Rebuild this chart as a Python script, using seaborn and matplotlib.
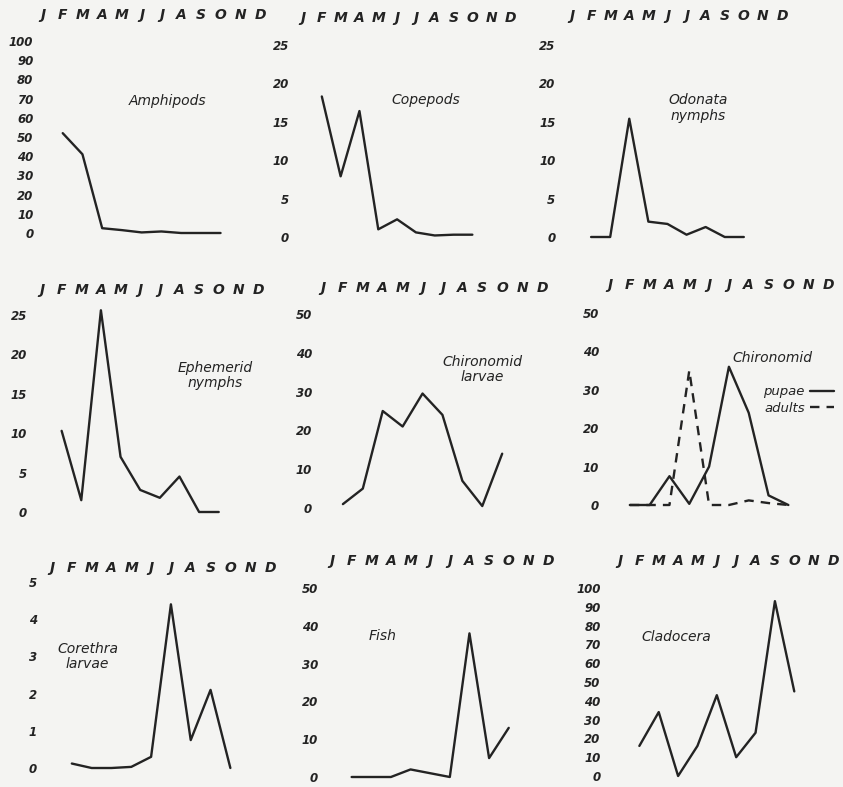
import numpy as np
import pandas as pd
import matplotlib
matplotlib.use('Agg')
import matplotlib.pyplot as plt
import seaborn as sns

sns.set_style('white')
plt.rcParams['font.family'] = ['DejaVu Sans']

# month letters along the top of every panel
months = ['J', 'F', 'M', 'A', 'M', 'J', 'J', 'A', 'S', 'O', 'N', 'D']
# samples were taken February .. October (month numbers)
sample_months = [2, 3, 4, 5, 6, 7, 8, 9, 10]

amphipods = [52, 41, 2.5, 1.5, 0.3, 0.8, 0, 0, 0]
copepods = [18.3, 7.9, 16.4, 1.0, 2.3, 0.6, 0.2, 0.3, 0.3]
odonata = [0, 0, 15.4, 2.0, 1.7, 0.3, 1.3, 0, 0]
ephemerid = [10.3, 1.5, 25.6, 7.0, 2.8, 1.8, 4.5, 0, 0]
chiro_larvae = [1, 5, 25, 21, 29.5, 24, 7, 0.5, 14]
chiro_pupae = [0, 0, 7.5, 0.3, 10, 36, 24, 2.5, 0]
chiro_adults = [0, 0, 0, 35, 0, 0, 1.2, 0.5, 0]
corethra = [0.12, 0, 0, 0.03, 0.3, 4.4, 0.75, 2.1, 0]
fish = [0, 0, 0, 2, 1, 0, 38, 5, 13]
cladocera = [16, 34, 0, 16, 43, 10, 23, 93, 45]

ink = '#232323'
bg = '#f4f4f2'

# panel layout in pixels: left (J), right (D), y of zero, y of top tick
panels = [
    dict(series=[('', amphipods, '-')], box=(43, 260, 233, 41), ymax=100, step=10,
         xpad=13.5, ypad=7, title='Amphipods', txy=(6.3, 69)),
    dict(series=[('', copepods, '-')], box=(303, 510, 237, 45), ymax=25, step=5,
         xpad=14.5, ypad=10, title='Copepods', txy=(6.5, 17.8)),
    dict(series=[('', odonata, '-')], box=(572, 782, 237, 45), ymax=25, step=5,
         xpad=15.5, ypad=12, title='Odonata\nnymphs', txy=(6.6, 16.8)),
    dict(series=[('', ephemerid, '-')], box=(42, 258, 512, 315), ymax=25, step=5,
         xpad=13, ypad=11, title='Ephemerid\nnymphs', txy=(8.8, 17.3)),
    dict(series=[('', chiro_larvae, '-')], box=(323, 542, 508, 314), ymax=50, step=10,
         xpad=13.5, ypad=8, title='Chironomid\nlarvae', txy=(8.0, 35.8)),
    dict(series=[('pupae', chiro_pupae, '-'), ('adults', chiro_adults, '--')],
         box=(610, 828, 505, 313), ymax=50, step=10,
         xpad=15, ypad=8, title='Chironomid', txy=(8.2, 38.3)),
    dict(series=[('', corethra, '-')], box=(52, 270, 768, 582), ymax=5, step=1,
         xpad=5, ypad=11, title='Corethra\nlarvae', txy=(1.8, 3.0)),
    dict(series=[('', fish, '-')], box=(332, 548, 777, 588), ymax=50, step=10,
         xpad=14.5, ypad=10, title='Fish', txy=(2.55, 37.2)),
    dict(series=[('', cladocera, '-')], box=(620, 833, 776, 588), ymax=100, step=10,
         xpad=14.5, ypad=14, title='Cladocera', txy=(2.9, 74)),
]

W, H = 843, 787
fig = plt.figure(figsize=(W / 100, H / 100), dpi=100)
fig.patch.set_facecolor(bg)

x_idx = [m - 1 for m in sample_months]

for p in panels:
    left, right, zero, top = p['box']
    ax = fig.add_axes([left / W, 1 - zero / H, (right - left) / W, (zero - top) / H])
    ax.set_facecolor('none')

    for name, vals, ls in p['series']:
        df = pd.DataFrame({'month': x_idx, 'count': vals})
        sns.lineplot(data=df, x='month', y='count', ax=ax, color=ink, lw=1.7,
                     linestyle=ls, label=name if name else None, legend=False,
                     clip_on=False, dashes=False)
        if ls == '--':
            ax.lines[-1].set_dashes((4, 3))

    ax.set_xlim(0, 11)
    ax.set_ylim(0, p['ymax'])
    sns.despine(ax=ax, left=True, bottom=True)
    ax.set_xlabel('')
    ax.set_ylabel('')

    ax.xaxis.tick_top()
    ax.set_xticks(range(12))
    ax.set_xticklabels(months)
    ax.tick_params(axis='x', length=0, pad=p['xpad'], labelsize=10, colors=ink)
    yt = np.arange(0, p['ymax'] + p['step'] / 2, p['step'])
    ax.set_yticks(yt)
    ax.set_yticklabels([str(int(v)) for v in yt])
    ax.tick_params(axis='y', length=0, pad=p['ypad'], labelsize=8.5, colors=ink)
    for lbl in ax.get_xticklabels() + ax.get_yticklabels():
        lbl.set_style('italic')
        lbl.set_fontweight('bold')

    ax.text(p['txy'][0], p['txy'][1], p['title'], ha='center', va='center',
            fontsize=10, style='italic', color=ink, linespacing=1.1)

    if len(p['series']) > 1:
        ax.legend(frameon=False, markerfirst=False, loc='upper right',
                  bbox_to_anchor=(1.05, 0.65), borderaxespad=0, labelspacing=0.25,
                  handlelength=1.8, handletextpad=0.4,
                  prop=dict(size=9.5, style='italic'), labelcolor=ink)

fig.savefig('out.png', dpi=100, facecolor=bg)
